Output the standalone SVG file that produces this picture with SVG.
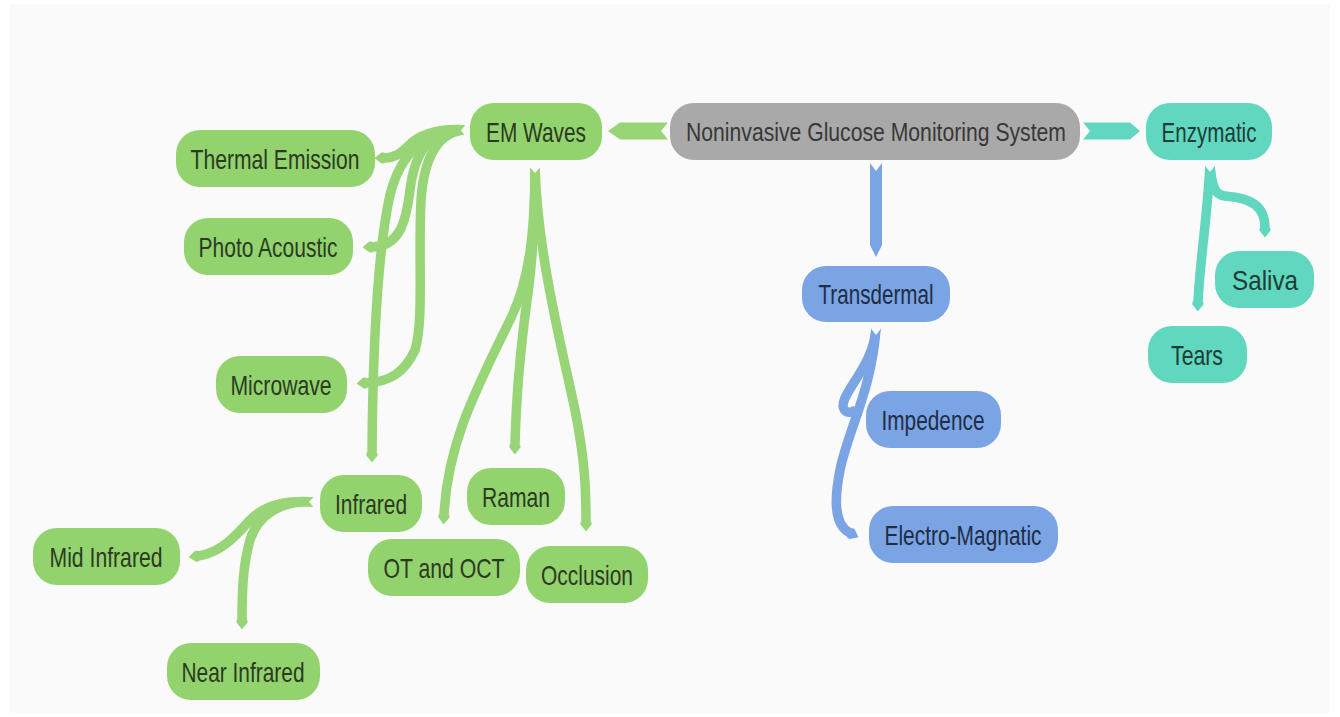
<svg xmlns="http://www.w3.org/2000/svg" width="1340" height="717" viewBox="0 0 1340 717">
<style>
text{font-family:"Liberation Sans",Arial,sans-serif;font-size:28px;text-anchor:middle}
.g rect{fill:#92d36e}.g text{fill:#2c3a22}
.b rect{fill:#7ba4e4}.b text{fill:#1f2d45}
.t rect{fill:#62d7bf}.t text{fill:#1c3d36}
.r rect{fill:#a9a9a9}.r text{fill:#383838;font-size:26px}
.cg{fill:none;stroke:#97d576;stroke-width:9.5}
.cb{fill:none;stroke:#7ba4e4;stroke-width:9.5}
.ct{fill:none;stroke:#62d7bf;stroke-width:9.5}
.notch{fill:#fafafa}
</style>
<defs>
<marker id="ag" markerUnits="userSpaceOnUse" markerWidth="10" markerHeight="12" viewBox="0 -6 10 12" refX="0.5" refY="0" orient="auto"><path d="M0,-5.5 L3,-5.5 L10,0 L3,5.5 L0,5.5 Z" fill="#97d576"/></marker>
<marker id="ab" markerUnits="userSpaceOnUse" markerWidth="10" markerHeight="12" viewBox="0 -6 10 12" refX="0.5" refY="0" orient="auto"><path d="M0,-5.5 L3,-5.5 L10,0 L3,5.5 L0,5.5 Z" fill="#7ba4e4"/></marker>
<marker id="at" markerUnits="userSpaceOnUse" markerWidth="10" markerHeight="12" viewBox="0 -6 10 12" refX="0.5" refY="0" orient="auto"><path d="M0,-5.5 L3,-5.5 L10,0 L3,5.5 L0,5.5 Z" fill="#62d7bf"/></marker>
</defs>
<rect x="0" y="0" width="1340" height="717" fill="#ffffff"/>
<rect x="10" y="4" width="1320" height="709" fill="#fafafa"/>
<g id="connectors">
<polygon points="608,131 620,122.5 668,122.5 661,131 668,139.5 620,139.5" fill="#97d576"/>
<polygon points="1083,122.5 1130,122.5 1140,131 1130,139.5 1083,139.5 1090,131" fill="#62d7bf"/>
<polygon points="870,163 876,171 882,163 882,245 876,257 870,245" fill="#7ba4e4"/>
<path class="cg" marker-end="url(#ag)" d="M467,130 C440,128 420,134 408,146 C400,154 394,158 384,158"/>
<path class="cg" marker-end="url(#ag)" d="M467,130 C432,126 415,150 410,190 C406,222 400,246 372,247"/>
<path class="cg" marker-end="url(#ag)" d="M467,130 C425,128 400,155 390,195 C380,240 373,320 372,453"/>
<path class="cg" marker-end="url(#ag)" d="M467,130 C440,130 424,155 421,200 C418,260 424,320 415,350 C405,372 390,382 366,383"/>
<polygon class="notch" points="469,120 461,130.5 469,141"/>
<path class="cg" marker-end="url(#ag)" d="M535,165 C535,220 533,260 527,300 C519,360 516,400 515,445"/>
<path class="cg" marker-end="url(#ag)" d="M535,165 C535,230 530,280 510,320 C470,400 447,450 444,515"/>
<path class="cg" marker-end="url(#ag)" d="M535,165 C537,250 560,340 575,410 C585,460 586,490 586,522"/>
<polygon class="notch" points="526,163 535,173 544,163"/>
<path class="cg" marker-end="url(#ag)" d="M315,502 C285,500 265,505 250,520 C235,537 220,553 198,556"/>
<path class="cg" marker-end="url(#ag)" d="M315,502 C280,500 258,515 250,540 C243,565 242,590 242,620"/>
<polygon class="notch" points="317,493 309,502 317,511"/>
<path class="cb" marker-end="url(#ab)" d="M876,328 C874,360 852,382 845,398 C840,410 846,413 852,412"/>
<path class="cb" marker-end="url(#ab)" d="M876,328 C872,390 848,430 840,470 C834,500 834,525 850,533"/>
<polygon class="notch" points="869,326 876,335 883,326"/>
<path class="ct" marker-end="url(#at)" d="M1210,165 C1207,220 1200,260 1198,302"/>
<path class="ct" marker-end="url(#at)" d="M1210,165 C1212,185 1214,195 1225,196 C1250,198 1265,205 1265,228"/>
<polygon class="notch" points="1203,163 1210,172 1217,163"/>
</g>
<g id="root" class="r"><rect x="670" y="103" width="410" height="57" rx="24"/><text x="876" y="141" textLength="380" lengthAdjust="spacingAndGlyphs">Noninvasive Glucose Monitoring System</text></g>
<g id="em-waves" class="g"><rect x="470" y="103" width="132" height="57" rx="24"/><text x="536" y="142" textLength="100" lengthAdjust="spacingAndGlyphs">EM Waves</text></g>
<g id="enzymatic" class="t"><rect x="1146" y="103" width="126" height="57" rx="24"/><text x="1209" y="142" textLength="95" lengthAdjust="spacingAndGlyphs">Enzymatic</text></g>
<g id="transdermal" class="b"><rect x="802" y="266" width="148" height="56" rx="24"/><text x="876" y="304" textLength="115" lengthAdjust="spacingAndGlyphs">Transdermal</text></g>
<g id="impedence" class="b"><rect x="866" y="391" width="135" height="57" rx="24"/><text x="933" y="430" textLength="103" lengthAdjust="spacingAndGlyphs">Impedence</text></g>
<g id="electro-magnatic" class="b"><rect x="869" y="506" width="189" height="57" rx="24"/><text x="963" y="545" textLength="157" lengthAdjust="spacingAndGlyphs">Electro-Magnatic</text></g>
<g id="saliva" class="t"><rect x="1215" y="251" width="99" height="57" rx="24"/><text x="1265" y="290" textLength="66" lengthAdjust="spacingAndGlyphs">Saliva</text></g>
<g id="tears" class="t"><rect x="1148" y="326" width="99" height="57" rx="24"/><text x="1197" y="365" textLength="52" lengthAdjust="spacingAndGlyphs">Tears</text></g>
<g id="thermal-emission" class="g"><rect x="176" y="130" width="199" height="57" rx="24"/><text x="275" y="169" textLength="169" lengthAdjust="spacingAndGlyphs">Thermal Emission</text></g>
<g id="photo-acoustic" class="g"><rect x="184" y="218" width="169" height="57" rx="24"/><text x="268" y="257" textLength="139" lengthAdjust="spacingAndGlyphs">Photo Acoustic</text></g>
<g id="microwave" class="g"><rect x="216" y="356" width="131" height="57" rx="24"/><text x="281" y="395" textLength="101" lengthAdjust="spacingAndGlyphs">Microwave</text></g>
<g id="infrared" class="g"><rect x="320" y="475" width="102" height="57" rx="24"/><text x="371" y="514" textLength="72" lengthAdjust="spacingAndGlyphs">Infrared</text></g>
<g id="raman" class="g"><rect x="467" y="468" width="98" height="57" rx="24"/><text x="516" y="507" textLength="68" lengthAdjust="spacingAndGlyphs">Raman</text></g>
<g id="ot-and-oct" class="g"><rect x="368" y="539" width="152" height="57" rx="24"/><text x="444" y="578" textLength="121" lengthAdjust="spacingAndGlyphs">OT and OCT</text></g>
<g id="occlusion" class="g"><rect x="526" y="546" width="122" height="57" rx="24"/><text x="587" y="585" textLength="92" lengthAdjust="spacingAndGlyphs">Occlusion</text></g>
<g id="mid-infrared" class="g"><rect x="33" y="528" width="147" height="57" rx="24"/><text x="106" y="567" textLength="113" lengthAdjust="spacingAndGlyphs">Mid Infrared</text></g>
<g id="near-infrared" class="g"><rect x="167" y="643" width="153" height="57" rx="24"/><text x="243" y="682" textLength="123" lengthAdjust="spacingAndGlyphs">Near Infrared</text></g>
</svg>
